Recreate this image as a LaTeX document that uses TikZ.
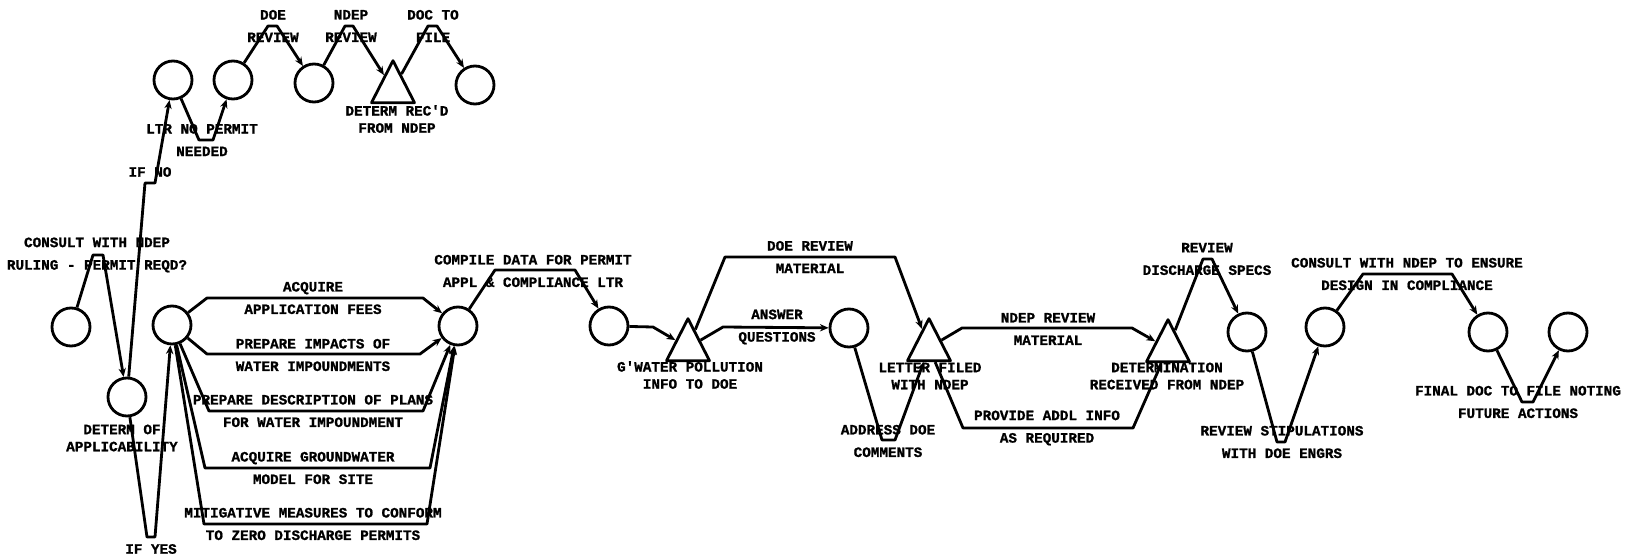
\documentclass[tikz,border=0pt]{standalone}
\usepackage{fontspec}
\newfontfamily\plotfont{Liberation Mono}[BoldFeatures={FakeBold=1.2}]
\usepackage{tikz}
\usetikzlibrary{positioning,shapes,arrows.meta}
\tikzset {
    style event/.style={
        draw=black,
        line width=2.4pt,
        circle, % Set the shape as a circle
        minimum size=11.4mm,
        inner sep=0pt,
    },
    style check/.style={
        draw=black,
        line width=2.4pt,
        isosceles triangle, % Set the shape as a triangle
        shape border rotate=90,
        isosceles triangle stretches,
        minimum width=12.9mm,
        minimum height=12.6mm,
        inner sep=0pt,
    },
    style arc/.style={
        draw=black,
        line width=2.4pt,
        ->,
    },
    style arc label/.style={
        font=\plotfont\bfseries\fontsize{12.2}{19.2}\selectfont,
        inner sep=0pt,
        align=center,
    },
    style event label/.style={
        font=\plotfont\bfseries\fontsize{12.2}{14.6}\selectfont,
        inner sep=0pt,
        align=center,
    },
}
\begin{document}
\begin{tikzpicture}
    [x=0.3mm, y=-0.3mm, >={Stealth[length=2.6mm, width=2.2mm]}, line join=round]
    \useasboundingbox (0,0) rectangle (1638,557);
    % events
    \node[style event] (start) at (71,327) {};
    \node[style event] (determ) at (127,397) {};
    \node[style event] (nopermit) at (173,80) {};
    \node[style event] (ltrsent) at (233,80) {};
    \node[style event] (doerev) at (314,83) {};
    \node[style check, anchor=apex] (ndeprec) at (393,57) {};
    \node[style event] (filed) at (475,85) {};
    \node[style event] (permit) at (172,325) {};
    \node[style event] (compile) at (458,326) {};
    \node[style event] (appl) at (609,326) {};
    \node[style check, anchor=apex] (gwater) at (688,315) {};
    \node[style event] (answer) at (849,328) {};
    \node[style check, anchor=apex] (letter) at (929,315) {};
    \node[style check, anchor=apex] (received) at (1168,316) {};
    \node[style event] (specs) at (1247,332) {};
    \node[style event] (stip) at (1325,327) {};
    \node[style event] (design) at (1488,332) {};
    \node[style event] (final) at (1568,332) {};
    % labels of the events
    \node[style event label] (lblndeprec) at (397,119) {DETERM REC'D\\FROM NDEP};
    \node[style event label] (lbldeterm) at (122,438) {DETERM OF\\APPLICABILITY};
    \node[style event label] (lblgwater) at (690,375) {G'WATER POLLUTION\\INFO TO DOE};
    \node[style event label] (lblletter) at (930,376) {LETTER FILED\\WITH NDEP};
    \node[style event label] (lblreceived) at (1167,376) {DETERMINATION\\RECEIVED FROM NDEP};
    % labels of the activities
    \node[style arc label] (lblconsult) at (97,255) {CONSULT WITH NDEP\\RULING - PERMIT REQD?};
    \node[style arc label] (lblifno) at (150,172) {IF NO};
    \node[style arc label] (lblifyes) at (151,549) {IF YES};
    \node[style arc label] (lblltr) at (202,140) {LTR NO PERMIT\\NEEDED};
    \node[style arc label] (lbldoerev) at (273,26) {DOE\\REVIEW};
    \node[style arc label] (lblndeprev) at (351,26) {NDEP\\REVIEW};
    \node[style arc label] (lbldocfile) at (433,26) {DOC TO\\FILE};
    \node[style arc label] (lblfees) at (313,298) {ACQUIRE\\APPLICATION FEES};
    \node[style arc label] (lblimpacts) at (313,355) {PREPARE IMPACTS OF\\WATER IMPOUNDMENTS};
    \node[style arc label] (lblplans) at (313,411) {PREPARE DESCRIPTION OF PLANS\\FOR WATER IMPOUNDMENT};
    \node[style arc label] (lblmodel) at (313,468) {ACQUIRE GROUNDWATER\\MODEL FOR SITE};
    \node[style arc label] (lblmitig) at (313,524) {MITIGATIVE MEASURES TO CONFORM\\TO ZERO DISCHARGE PERMITS};
    \node[style arc label] (lblcompile) at (533,271) {COMPILE DATA FOR PERMIT\\APPL \& COMPLIANCE LTR};
    \node[style arc label] (lbldoemat) at (810,257) {DOE REVIEW\\MATERIAL};
    \node[style arc label] (lblanswer) at (777,327) {ANSWER\\QUESTIONS};
    \node[style arc label] (lbladdress) at (888,441) {ADDRESS DOE\\COMMENTS};
    \node[style arc label] (lblndepmat) at (1048,329) {NDEP REVIEW\\MATERIAL};
    \node[style arc label] (lbladdl) at (1047,428) {PROVIDE ADDL INFO\\AS REQUIRED};
    \node[style arc label] (lblspecs) at (1207,259) {REVIEW\\DISCHARGE SPECS};
    \node[style arc label] (lblstip) at (1282,442) {REVIEW STIPULATIONS\\WITH DOE ENGRS};
    \node[style arc label] (lbldesign) at (1407,274) {CONSULT WITH NDEP TO ENSURE\\DESIGN IN COMPLIANCE};
    \node[style arc label] (lblfinal) at (1518,402) {FINAL DOC TO FILE NOTING\\FUTURE ACTIONS};
    % activities
    \draw[style arc] (start) -- (93,255) -- (103,255) -- (determ);
    \draw[style arc] (determ) -- (145,183) -- (155,183) -- (nopermit);
    \draw[style arc] (nopermit) -- (199,140) -- (213,140) -- (ltrsent);
    \draw[style arc] (ltrsent) -- (268,26) -- (277,26) -- (doerev);
    \draw[style arc] (doerev) -- (345,26) -- (353,26) -- (ndeprec);
    \draw[style arc] (ndeprec) -- (428,26) -- (437,26) -- (filed);
    \draw[style arc] (determ) -- (147,537) -- (155,537) -- (permit);
    \draw[style arc] (permit) -- (207,298) -- (423,298) -- (compile);
    \draw[style arc] (permit) -- (207,354) -- (420,354) -- (compile);
    \draw[style arc] (permit) -- (209,411) -- (423,411) -- (compile);
    \draw[style arc] (permit) -- (205,468) -- (430,468) -- (compile);
    \draw[style arc] (permit) -- (204,524) -- (427,524) -- (compile);
    \draw[style arc] (compile) -- (495,270) -- (575,270) -- (appl);
    \draw[style arc] (appl) -- (653,327) -- (gwater);
    \draw[style arc] (gwater) -- (723,327) -- (answer);
    \draw[style arc] (gwater) -- (725,257) -- (895,257) -- (letter);
    \draw[style arc] (answer) -- (882,440) -- (895,440) -- (letter);
    \draw[style arc] (letter) -- (962,328) -- (1132,328) -- (received);
    \draw[style arc] (letter) -- (963,428) -- (1133,428) -- (received);
    \draw[style arc] (received) -- (1203,259) -- (1212,259) -- (specs);
    \draw[style arc] (specs) -- (1277,442) -- (1285,442) -- (stip);
    \draw[style arc] (stip) -- (1363,274) -- (1452,274) -- (design);
    \draw[style arc] (design) -- (1522,402) -- (1533,402) -- (final);
\end{tikzpicture}
\end{document}
